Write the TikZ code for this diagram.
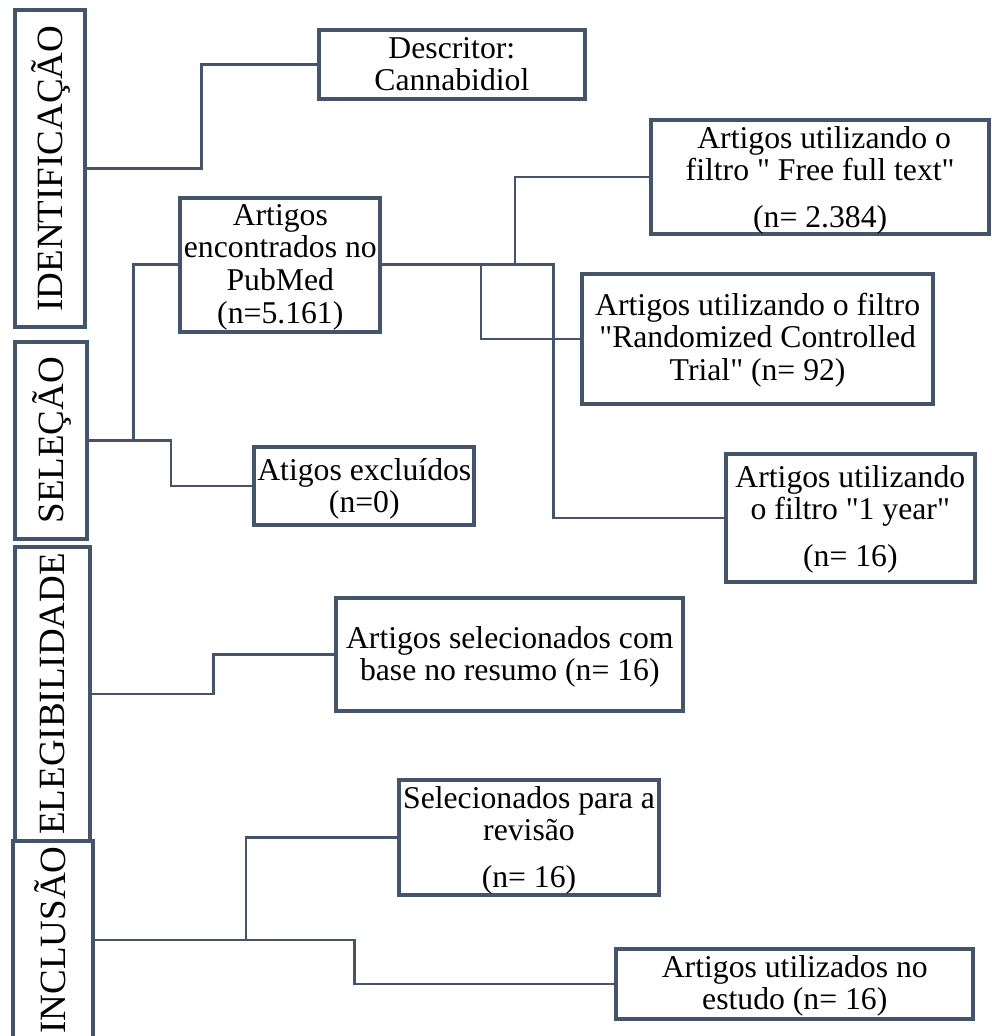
\documentclass[tikz,border=0pt]{standalone}
\usepackage{fontspec}
\newfontfamily\mainf{Liberation Serif}
\definecolor{lncol}{HTML}{44546A}
\newcommand{\bxtext}[4]{\parbox[t][#2pt][t]{#1pt}{\mainf\fontsize{31.7}{32.8}\selectfont\centering\vspace*{#3pt}\rule{0pt}{23pt}#4\par}}
\newcommand{\lbtext}[1]{\rotatebox{90}{\mainf\fontsize{37}{40}\selectfont\raisebox{0pt}[24.5pt][0pt]{#1}}}
\begin{document}
\begin{tikzpicture}[x=1pt,y=-1pt,
  bx/.style={draw=lncol, line width=4pt, inner sep=0pt, outer sep=0pt, anchor=north west},
  lb/.style={draw=lncol, line width=4pt, inner sep=0pt, outer sep=0pt, fill=white},
  cn/.style={draw=lncol, line width=2.6pt}]
\useasboundingbox (0,0) rectangle (991,1036);
\clip (0,0) rectangle (991,1036);
\fill[white] (0,0) rectangle (991,1036);

% stage labels
\node[lb, minimum width=69.4pt, minimum height=316.7pt] (ident) at (50,168.6) {\lbtext{IDENTIFICAÇÃO}};
\node[lb, minimum width=71.2pt, minimum height=196.7pt] (sele) at (50.9,440.3) {\lbtext{SELEÇÃO}};
\node[lb, minimum width=75pt, minimum height=294pt] (eleg) at (52.5,694) {\lbtext{ELEGIBILIDADE}};
\node[lb, minimum width=79.5pt, minimum height=198pt] (incl) at (53,940) {\lbtext{INCLUSÃO}};

% boxes
\node[bx] (desc) at (318.7,30.3) {\bxtext{266.3}{68.4}{4.7}{Descritor:\\Cannabidiol}};
\node[bx] (enc) at (180.3,197.7) {\bxtext{200}{134}{4.3}{Artigos\\encontrados no\\PubMed\\(n=5.161)}};
\node[bx] (excl) at (254.3,446.7) {\bxtext{220}{78.6}{10.3}{Atigos excluídos\\(n=0)}};
\node[bx] (fft) at (651.3,120.3) {\bxtext{337.7}{113.4}{4.7}{~Artigos utilizando o\\filtro " Free full text"\\[14pt](n= 2.384)}};
\node[bx] (rct) at (582,274) {\bxtext{351.3}{129.7}{18}{Artigos utilizando o filtro\\"Randomized Controlled\\Trial" (n= 92)}};
\node[bx] (year) at (726,454.3) {\bxtext{248.7}{127.4}{9.7}{Artigos utilizando\\o filtro "1 year"\\[14pt](n= 16)}};
\node[bx] (sel) at (336.3,598) {\bxtext{347}{112.7}{27}{Artigos selecionados com\\base no resumo (n= 16)}};
\node[bx] (rev) at (399.3,779.7) {\bxtext{259.4}{115.6}{5.3}{Selecionados para a\\revisão\\[14pt](n= 16)}};
\node[bx] (util) at (616.3,948.7) {\bxtext{357}{70.6}{5.3}{Artigos utilizados no\\estudo (n= 16)}};

% junctions
\path (sele.east) ++(46.8,0) coordinate (js);
\path (enc.east) ++(173,0) coordinate (je);
\path (incl.east) ++(153.2,0) coordinate (ji);

% connectors
\draw[cn] (ident.east) -- ++(117,0) |- (desc.west);
\draw[cn] (sele.east) -- (js) |- (enc.west);
\draw[cn] (js) -- ++(37.7,0) |- (excl.west);
\draw[cn] (enc.east) -- (je) |- (year.west);
\draw[cn] (enc.east) ++(100.7,0) |- (rct.west);
\draw[cn] (enc.east) ++(134.7,0) |- (fft.west);
\draw[cn] (eleg.east) -- ++(123.3,0) |- (sel.west);
\draw[cn] (incl.east) -- (ji) |- (rev.west);
\draw[cn] (ji) -- ++(108.7,0) |- (util.west);
\end{tikzpicture}
\end{document}
